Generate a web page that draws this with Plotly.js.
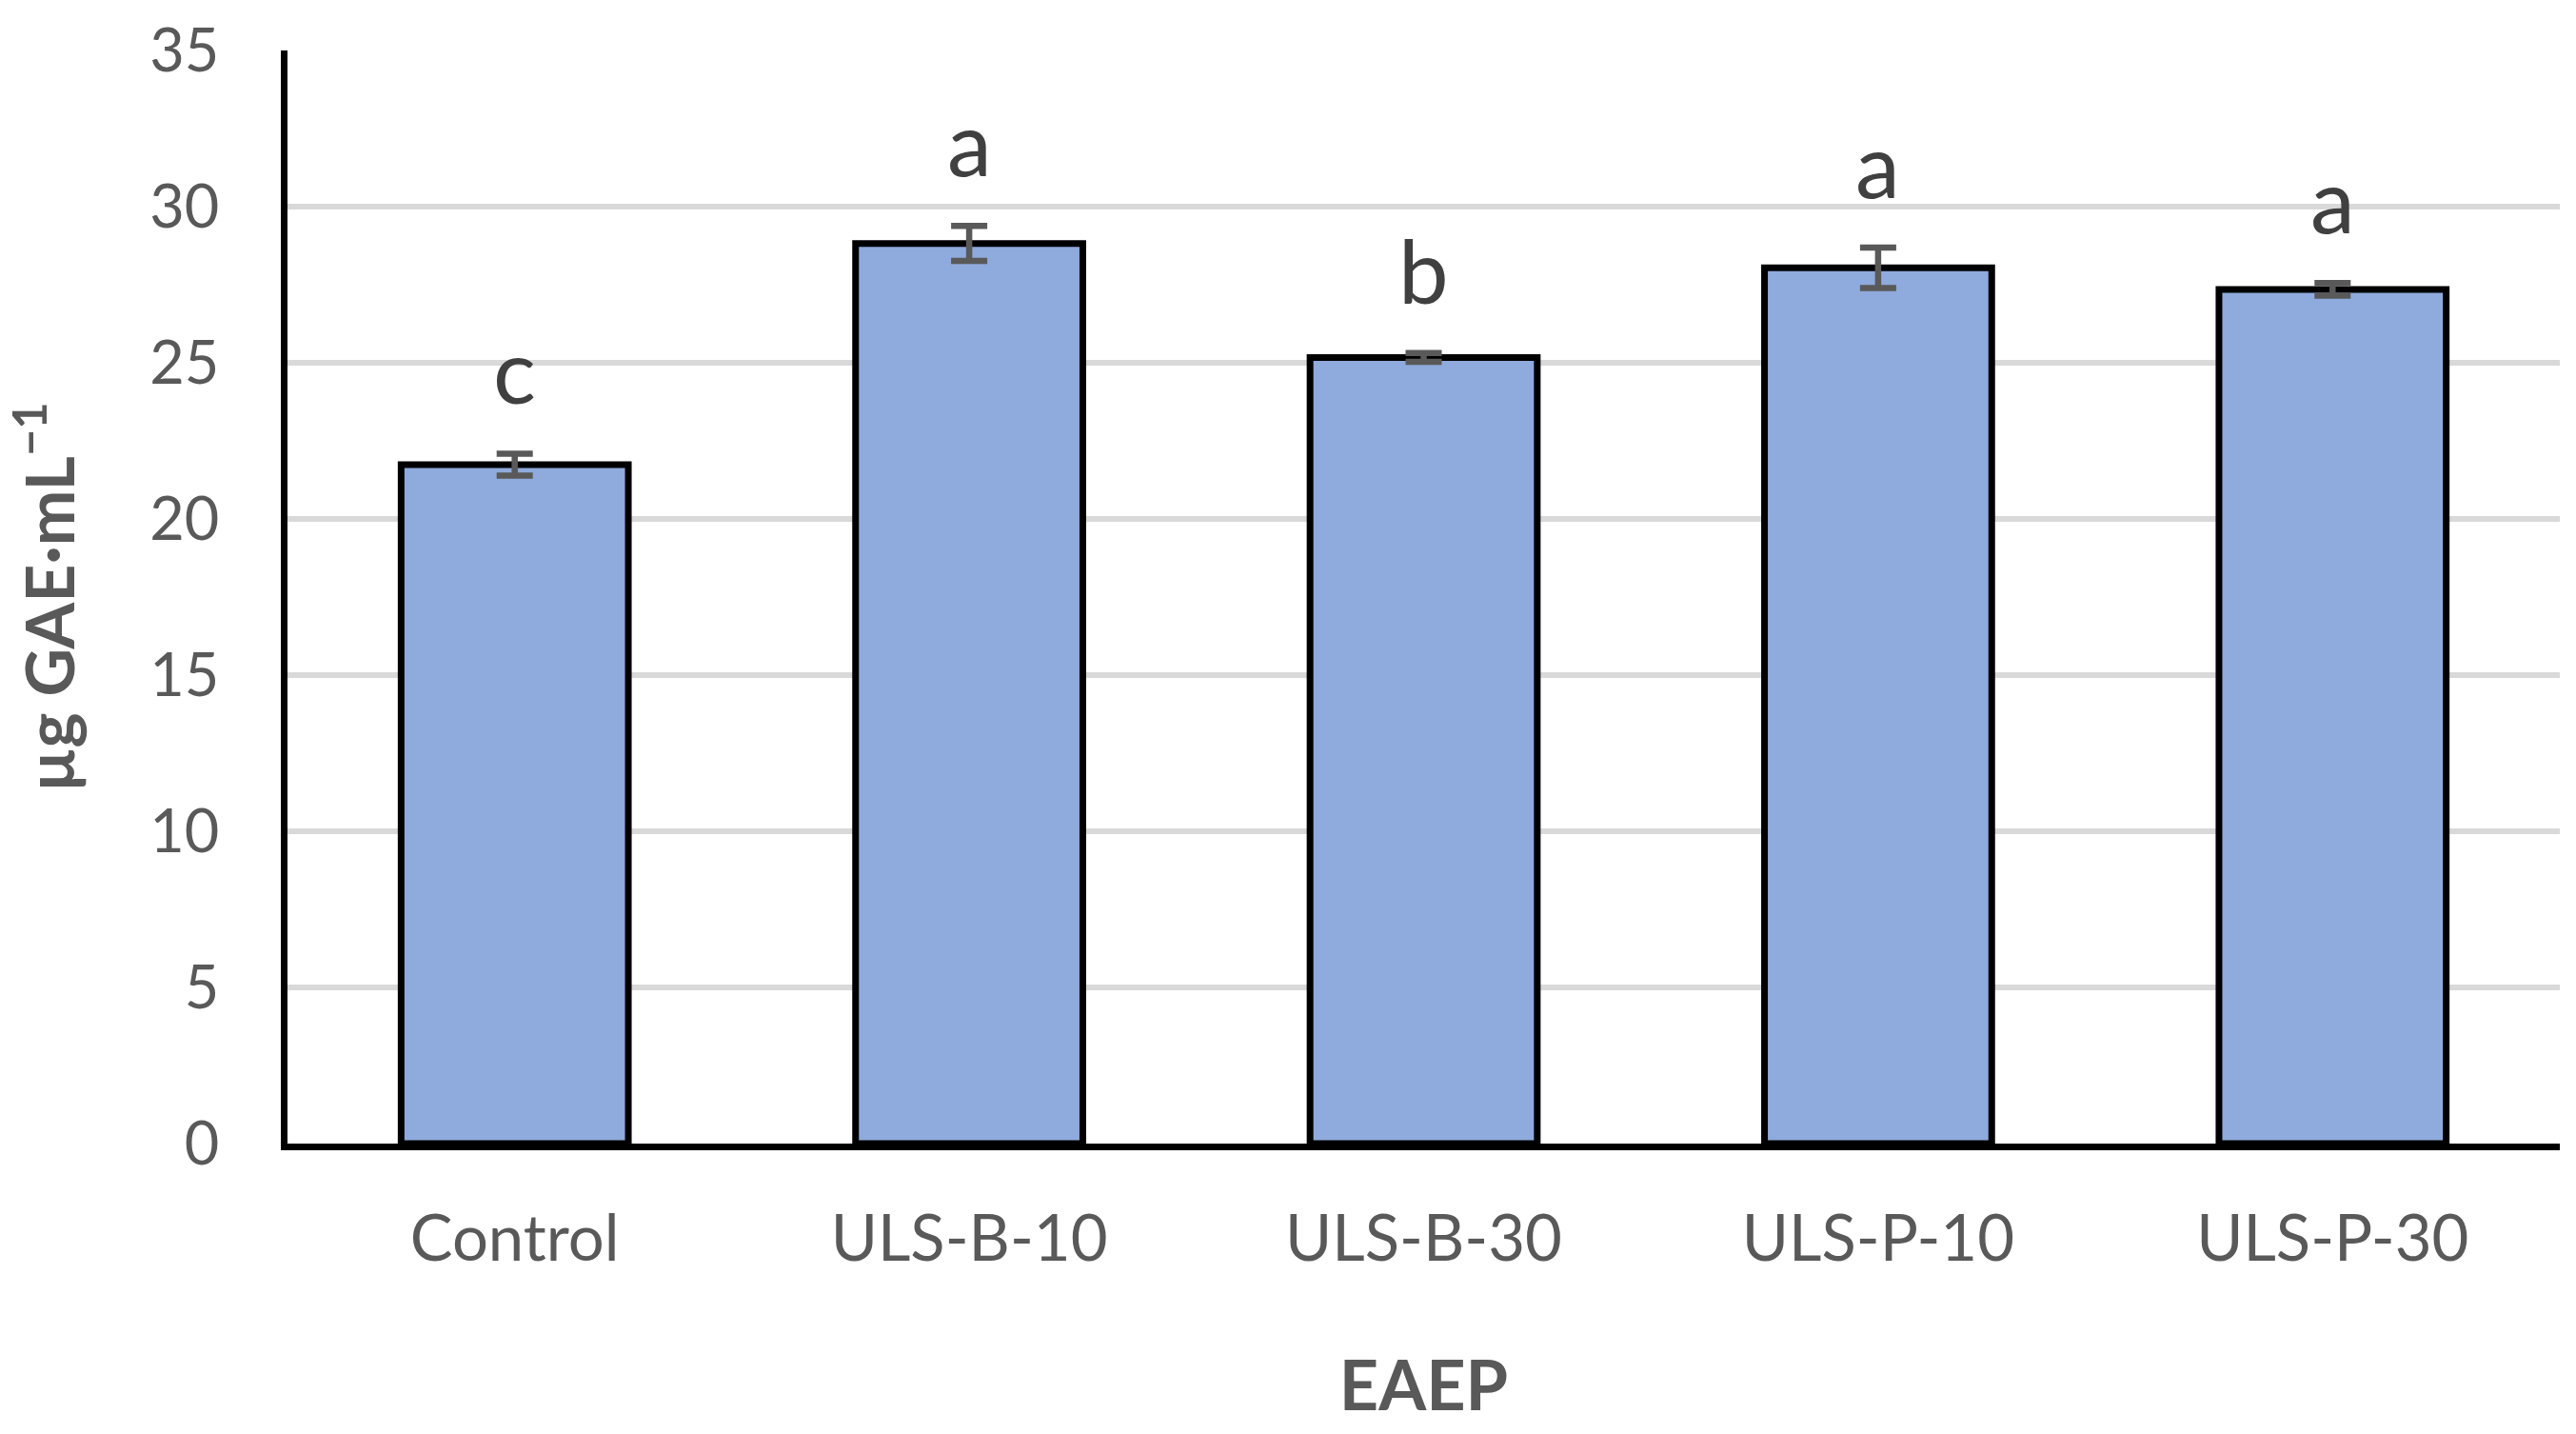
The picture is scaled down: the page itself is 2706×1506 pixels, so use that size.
<!DOCTYPE html>
<html>
<head>
<meta charset="utf-8">
<script src="https://cdn.plot.ly/plotly-3.0.1.min.js"></script>
<style>html,body{margin:0;padding:0;background:#fff;}#chart{width:2706px;height:1506px;}</style>
</head>
<body>
<div id="chart"></div>
<script>
const categories = ["Control", "ULS-B-10", "ULS-B-30", "ULS-P-10", "ULS-P-30"];
const means = [21.74, 28.82, 25.17, 28.04, 27.35];
const errors = [0.35, 0.56, 0.14, 0.65, 0.20];
const letters = ["c", "a", "b", "a", "a"];
const yTickVals = [0, 5, 10, 15, 20, 25, 30, 35];

const trace = {
  type: "bar",
  x: categories,
  y: means,
  width: 0.5,
  marker: { color: "#8FAADC", line: { color: "#000000", width: 7 } },
  error_y: { type: "data", array: errors, visible: true, color: "#595959", thickness: 6.5, width: 19 },
  hoverinfo: "skip"
};

const annotations = categories.map((c, i) => ({
  x: c, y: means[i] + errors[i], xref: "x", yref: "y",
  text: letters[i], showarrow: false, yanchor: "bottom", yshift: 30,
  font: { family: "Lato, sans-serif", size: 94, color: "#404040" }
}));

const layout = {
  width: 2706, height: 1506,
  paper_bgcolor: "#ffffff", plot_bgcolor: "#ffffff",
  margin: { l: 302, r: 17, t: 53, b: 305 },
  showlegend: false,
  bargap: 0.5,
  xaxis: {
    type: "category",
    showline: true, linecolor: "#000000", linewidth: 7,
    showgrid: false, zeroline: false,
    ticks: "", ticklabelstandoff: 36,
    tickfont: { family: "Lato, sans-serif", size: 67, color: "#595959" },
    title: { text: "<b>EAEP</b>", standoff: 96, font: { family: "Lato, sans-serif", size: 72, color: "#595959" } }
  },
  yaxis: {
    range: [0, 35], tickvals: yTickVals,
    showline: true, linecolor: "#000000", linewidth: 7,
    showgrid: true, gridcolor: "#D9D9D9", gridwidth: 6,
    zeroline: false, ticks: "", ticklabelstandoff: 52,
    tickfont: { family: "Lato, sans-serif", size: 63, color: "#595959" },
    title: { text: "<b>µg GAE·mL<sup>−1</sup></b>", standoff: 58, font: { family: "Lato, sans-serif", size: 70, color: "#595959" } }
  },
  annotations: annotations
};

Plotly.newPlot("chart", [trace], layout, { staticPlot: true });
</script>
</body>
</html>
